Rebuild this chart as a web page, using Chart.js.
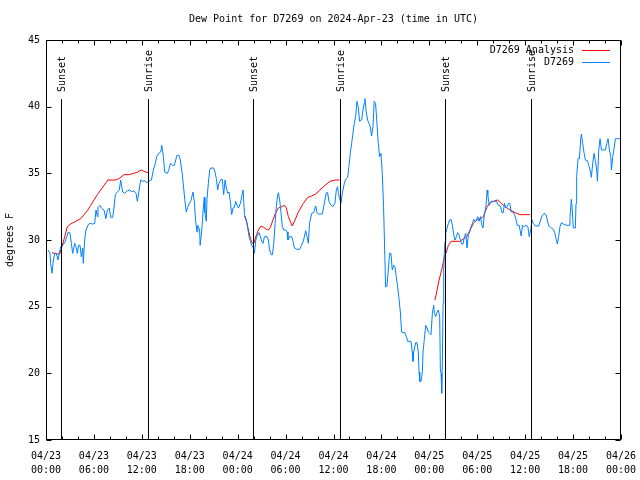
<!DOCTYPE html>
<html>
<head>
<meta charset="utf-8">
<script src="https://cdn.jsdelivr.net/npm/chart.js@4"></script>
<style>
  html, body { margin: 0; padding: 0; background: #fff; }
  canvas { display: block; }
</style>
</head>
<body>
<canvas id="dew" width="640" height="480"></canvas>
<script>
// hours since 04/23 00:00 UTC
let blueHours = [
  0.25,0.5,0.58,0.75,0.92,1.1,1.3,1.5,1.67,1.84,2.1,2.42,2.75,3.0,3.17,3.34,3.59,3.76,3.92,4.09,
  4.26,4.42,4.6,4.67,4.84,5.0,5.26,5.43,5.84,6.1,6.26,6.43,6.51,6.76,6.93,7.26,7.51,7.68,7.93,8.1,
  8.35,8.51,8.68,8.93,9.18,9.35,9.6,9.85,10.18,10.5,10.77,11.0,11.27,11.44,11.7,11.85,12.1,12.35,12.6,12.85,
  13.2,13.44,13.69,13.86,14.1,14.36,14.5,14.7,14.86,15.2,15.4,15.57,15.82,16.07,16.24,16.4,16.65,16.82,17.07,17.24,
  17.4,17.57,17.74,17.9,18.15,18.4,18.57,18.74,18.91,19.0,19.24,19.3,19.49,19.66,19.82,19.9,20.07,20.16,20.33,20.5,
  20.66,21.0,21.16,21.33,21.5,21.66,21.91,22.08,22.25,22.42,22.58,22.75,22.92,23.08,23.25,23.42,23.59,23.75,23.92,24.1,
  24.34,24.5,24.68,24.85,25.1,25.26,25.43,25.6,25.76,25.93,26.1,26.27,26.43,26.68,27.02,27.18,27.35,27.68,27.85,28.0,
  28.19,28.35,28.52,28.69,28.85,29.02,29.1,29.26,29.43,29.6,29.77,30.02,30.19,30.3,30.51,30.76,30.93,31.1,31.43,31.76,
  32.0,32.26,32.51,32.68,32.85,33.0,33.27,33.52,33.77,33.94,34.1,34.6,34.77,34.93,35.1,35.26,35.43,35.68,35.93,36.18,
  36.35,36.52,36.6,36.77,36.94,37.1,37.35,37.52,37.77,37.93,38.1,38.27,38.44,38.6,38.77,38.94,39.1,39.27,39.52,39.69,
  39.85,39.94,40.1,40.27,40.44,40.6,40.77,40.94,41.1,41.27,41.44,41.61,41.77,41.94,42.11,42.27,42.44,42.52,42.69,42.86,
  43.02,43.19,43.36,43.53,43.7,43.86,44.03,44.2,44.37,44.53,44.7,44.95,45.12,45.29,45.7,45.87,45.95,46.04,46.29,46.45,
  46.62,46.71,46.8,46.96,47.13,47.21,47.38,47.55,47.71,47.88,48.05,48.21,48.38,48.55,48.63,48.8,48.97,49.13,49.3,49.38,
  49.47,49.55,49.63,49.72,49.8,49.88,49.97,50.05,50.22,50.39,50.55,50.72,50.89,51.05,51.22,51.39,51.55,51.72,51.89,52.06,
  52.22,52.39,52.56,52.72,52.89,53.06,53.23,53.39,53.56,53.73,53.9,54.06,54.23,54.4,54.57,54.73,54.9,55.07,55.24,55.32,
  55.49,55.74,56.08,56.41,56.66,56.91,57.08,57.25,57.41,57.58,57.75,57.91,58.08,58.25,58.5,58.66,58.83,59.0,59.25,59.5,
  59.67,59.84,60.09,60.34,60.51,60.69,60.86,61.02,61.27,61.69,61.94,62.11,62.36,62.61,62.77,62.94,63.19,63.53,63.69,63.86,
  64.03,64.19,64.36,64.53,64.78,65.2,65.53,65.61,65.78,65.87,66.03,66.28,66.37,66.45,66.62,66.79,66.95,67.04,67.2,67.37,
  67.54,67.79,67.96,68.13,68.29,68.46,68.63,68.8,68.96,69.05,69.21,69.38,69.55,69.8,70.05,70.22,70.38,70.55,70.72,70.8,
  70.97,71.14,71.3,71.55,71.9
];
let blueTemps = [
  29.25,29,28.25,27.5,28.5,29,29,28.5,29,29.5,29.6,29.9,30.55,30.55,29.75,29,29.75,29.5,29,29.6,
  29.6,28.75,29.4,28.25,30,30.75,31.1,31.25,31.2,31.25,32.25,31.75,32.45,32.6,32.4,32.25,31.6,32.25,32.4,31.7,
  31.7,32.4,33.4,33.6,33.75,34.5,33.6,33.5,33.7,33.75,33.6,33.7,33.5,32.9,33.9,34.5,34.4,34.45,34.3,34.4,
  34.5,35.25,35.75,36.25,36.5,36.6,37.1,36.25,35.1,35,35.3,35.75,35.6,35.6,36,36.35,36.35,36,34.9,33.9,
  32.9,32.1,32.45,32.7,32.95,33.6,32.9,31.4,30.6,31.1,30.75,29.6,30.6,32.1,33.2,32.05,31.4,33.1,34.25,35.25,
  35.4,35.4,35.1,34.6,33.75,34.25,34.55,34.55,33.4,34.5,33.9,33.5,33.6,32.9,31.9,32.4,32.45,32.9,32.6,32.4,
  32.75,33.25,33.75,31.9,31.5,30.9,30.25,29.9,29.6,29.45,29,30,30.3,30.55,29.9,29.75,30.25,30.25,30,29.25,
  28.9,28.9,29.75,31.25,32.6,33.4,33.55,33,32,31,30.75,30.75,30.6,30,30.25,30.25,29.9,29.4,29.3,29.3,
  29.6,30,30.7,30.25,29.75,31.25,32,32.05,32.55,32.05,31.95,31.95,32.5,33,33.55,33.55,32.9,32.6,32.5,32.75,
  33.75,34,33.5,33.1,32.75,33.5,34.25,34.55,34.7,35.5,36.5,37.25,38,38.75,39.25,40.4,40,38.9,39,39.75,
  40.25,40.6,39.6,39,38.75,38.5,37.8,38.5,40.4,40.25,38.75,37.25,36.25,36.5,35,32.5,28.5,26.5,26.5,27.75,
  29,29,27.75,28.1,28,27.25,26.5,25.6,24.6,23.1,23.05,23.05,22.75,22.4,22.4,21.6,20.9,21.6,22.3,22.3,
  21.6,20.1,19.4,19.4,20.1,21.6,22.6,23.6,23.4,23.1,23,22.9,24.5,25.1,24.5,24.25,24.6,24.75,24.25,20.25,
  20,18.5,20.75,25.25,27.75,29.1,29.9,30.5,30.9,31.25,31.5,31.55,31.1,30.4,30,30.25,30.55,30.4,30,29.7,
  29.7,30.25,30.5,29.4,30.4,30.6,31,31.25,31.55,31.4,31.5,31.75,31.4,31.75,31.1,30.9,32,32.4,33.75,33.4,
  32.6,32.9,32.9,32.9,32.6,32.55,32.05,32.05,32.75,32.4,32.5,32.75,32.75,32.1,32.1,31.9,31.6,31.1,31.1,30.3,
  31.1,31,31.1,31,30.25,30.75,31.5,31.25,31.05,31.05,31.5,31.8,32,31.9,31.5,31.05,30.95,30.8,30.55,30.1,
  29.7,30.25,31,31.3,31.2,31.1,31.1,31.6,33.05,32.5,30.9,30.9,32.75,34.75,36.1,36.1,37.5,37.95,37.25,36.55,
  36,35.95,35.6,35.25,34.7,35.75,36.5,35.9,35.25,34.4,36.75,37.6,36.75,36.75,36.75,37.25,37.6,36.75,36.25,35.25,
  36.25,36.9,37.6,37.6,37.6
];

// analysis only exists for the night periods (null = gap)
let redHours = [
  0.75,1.42,1.75,2.0,2.34,2.67,3.09,3.72,4.34,4.76,5.18,5.6,6.01,6.43,6.85,7.26,7.76,8.72,9.14,9.77,
  10.4,11.0,11.5,11.94,12.27,12.77,18,
  24.85,25.1,25.35,25.6,25.85,26.02,26.27,26.6,26.93,27.27,27.6,27.85,28.1,28.44,28.77,29.1,29.52,29.85,30.1,
  30.34,30.84,31.18,31.6,32.22,32.77,33.27,33.77,34.3,34.93,35.55,36.19,36.77,42,
  48.71,48.97,49.22,49.55,49.88,50.13,50.39,50.72,51.85,52.27,52.68,53.1,53.52,53.94,54.36,54.78,55.2,55.61,56.03,56.57,
  56.99,57.49,58.12,58.75,59.37,60.0,60.59
];
let redTemps = [
  29.05,28.95,29,29.5,30.25,31,31.2,31.4,31.6,31.9,32.2,32.6,33,33.4,33.75,34.1,34.5,34.5,34.6,34.9,
  34.9,35,35.1,35.25,35.15,35.05,null,
  31.8,31.4,30.75,30.1,29.75,29.75,30.25,30.75,31.05,30.95,30.8,30.75,30.95,31.55,32.05,32.4,32.5,32.6,32.4,
  31.75,31.05,31.5,32.1,32.75,33.2,33.3,33.45,33.75,34.1,34.4,34.5,34.5,null,
  25.5,26.25,27,27.75,28.75,29.1,29.6,29.9,29.9,30.1,30.25,30.75,31.25,31.5,31.6,31.75,32.45,32.8,32.9,33,
  32.75,32.5,32.25,32.05,31.9,31.9,31.9
];

let sunHours = [1.92, 12.8, 25.95, 36.8, 49.98, 60.7];
let sunLabels = ['Sunset', 'Sunrise', 'Sunset', 'Sunrise', 'Sunset', 'Sunrise'];

let seriesNames = ['D7269 Analysis', 'D7269'];
let seriesColors = ['#ff0000', '#0080ff'];

const monoFont = 'DejaVu Sans Mono';
Chart.defaults.font.family = monoFont;
Chart.defaults.font.size = 10;
Chart.defaults.color = '#000';

function toPoints(xs, ys) {
  return xs.map((h, i) => ({ x: h, y: ys[i] }));
}

// gnuplot-like frame, inward ticks, sun lines and legend
const gnuFrame = {
  id: 'gnuFrame',
  afterDatasetsDraw(chart) {
    const ctx = chart.ctx;
    const a = chart.chartArea;
    const xs = chart.scales.x;
    const ys = chart.scales.y;
    ctx.save();
    ctx.strokeStyle = '#000';
    ctx.lineWidth = 1;
    const L = Math.round(a.left) + 0.5, R = Math.round(a.right) - 0.5;
    const T = Math.round(a.top) + 0.5, B = Math.round(a.bottom) - 0.5;
    ctx.beginPath();
    for (let h = 0; h <= 72; h += 2) {
      const px = Math.round(xs.getPixelForValue(h)) + 0.5;
      const len = h % 6 === 0 ? 5 : 3;
      ctx.moveTo(px, B); ctx.lineTo(px, B - len);
      ctx.moveTo(px, T); ctx.lineTo(px, T + len);
    }
    for (let v = 15; v <= 45; v += 5) {
      const py = Math.round(ys.getPixelForValue(v)) + 0.5;
      ctx.moveTo(L, py); ctx.lineTo(L + 5, py);
      ctx.moveTo(R, py); ctx.lineTo(R - 5, py);
    }
    ctx.stroke();
    ctx.strokeRect(L, T, R - L, B - T);

    // sunrise / sunset markers
    ctx.font = '10px ' + monoFont;
    ctx.fillStyle = '#000';
    sunHours.forEach((h, i) => {
      const px = Math.round(xs.getPixelForValue(h)) + 0.5;
      ctx.beginPath();
      ctx.moveTo(px, a.top + 59);
      ctx.lineTo(px, B);
      ctx.stroke();
      ctx.save();
      ctx.translate(px + 1, a.top + 52);
      ctx.rotate(-Math.PI / 2);
      ctx.textAlign = 'left';
      ctx.textBaseline = 'middle';
      ctx.fillText(sunLabels[i], 0, 0);
      ctx.restore();
    });

    // legend, gnuplot style: text then sample line
    ctx.textAlign = 'right';
    ctx.textBaseline = 'middle';
    seriesNames.forEach((name, i) => {
      const ly = Math.round(a.top + 10 + i * 12) + 0.5;
      ctx.fillStyle = '#000';
      ctx.fillText(name, a.right - 47, ly);
      ctx.strokeStyle = seriesColors[i];
      ctx.beginPath();
      ctx.moveTo(a.right - 39, ly);
      ctx.lineTo(a.right - 11, ly);
      ctx.stroke();
    });
    ctx.restore();
  }
};

new Chart(document.getElementById('dew').getContext('2d'), {
  type: 'line',
  data: {
    datasets: [
      {
        label: seriesNames[0],
        data: toPoints(redHours, redTemps),
        borderColor: seriesColors[0],
        borderWidth: 1,
        pointRadius: 0,
        tension: 0,
        spanGaps: false,
        order: 2
      },
      {
        label: seriesNames[1],
        data: toPoints(blueHours, blueTemps),
        borderColor: seriesColors[1],
        borderWidth: 1,
        pointRadius: 0,
        tension: 0,
        order: 1
      }
    ]
  },
  options: {
    responsive: false,
    animation: false,
    layout: { padding: { left: 0, right: 19, top: 0, bottom: 0 } },
    plugins: {
      legend: { display: false },
      tooltip: { enabled: false },
      title: {
        display: true,
        fullSize: false,
        text: 'Dew Point for D7269 on 2024-Apr-23 (time in UTC)',
        font: { family: monoFont, size: 10, weight: 'normal', lineHeight: 1.2 },
        color: '#000',
        padding: { top: 13, bottom: 15 }
      }
    },
    scales: {
      x: {
        type: 'linear',
        min: 0,
        max: 72,
        grid: { display: false, drawTicks: false },
        border: { display: false },
        ticks: {
          stepSize: 6,
          autoSkip: false,
          maxRotation: 0,
          padding: 9,
          font: { family: monoFont, size: 10, lineHeight: 1.4 },
          color: '#000',
          callback: function (v) {
            const day = 23 + Math.floor(v / 24);
            const hr = v % 24;
            return ['04/' + day, (hr < 10 ? '0' : '') + hr + ':00'];
          }
        },
        afterFit: function (s) {
          s.height = 40;
          s.paddingLeft = 0;
          s.paddingRight = 0;
        }
      },
      y: {
        min: 15,
        max: 45,
        grid: { display: false, drawTicks: false },
        border: { display: false },
        ticks: {
          stepSize: 5,
          padding: 6,
          font: { family: monoFont, size: 10 },
          color: '#000'
        },
        title: {
          display: true,
          text: 'degrees F',
          font: { family: monoFont, size: 10, lineHeight: 1.2 },
          color: '#000',
          padding: { top: 4, bottom: 4 }
        },
        afterFit: function (s) {
          s.width = 46;
          s.paddingTop = 0;
          s.paddingBottom = 0;
        }
      }
    }
  },
  plugins: [gnuFrame]
});
</script>
</body>
</html>
